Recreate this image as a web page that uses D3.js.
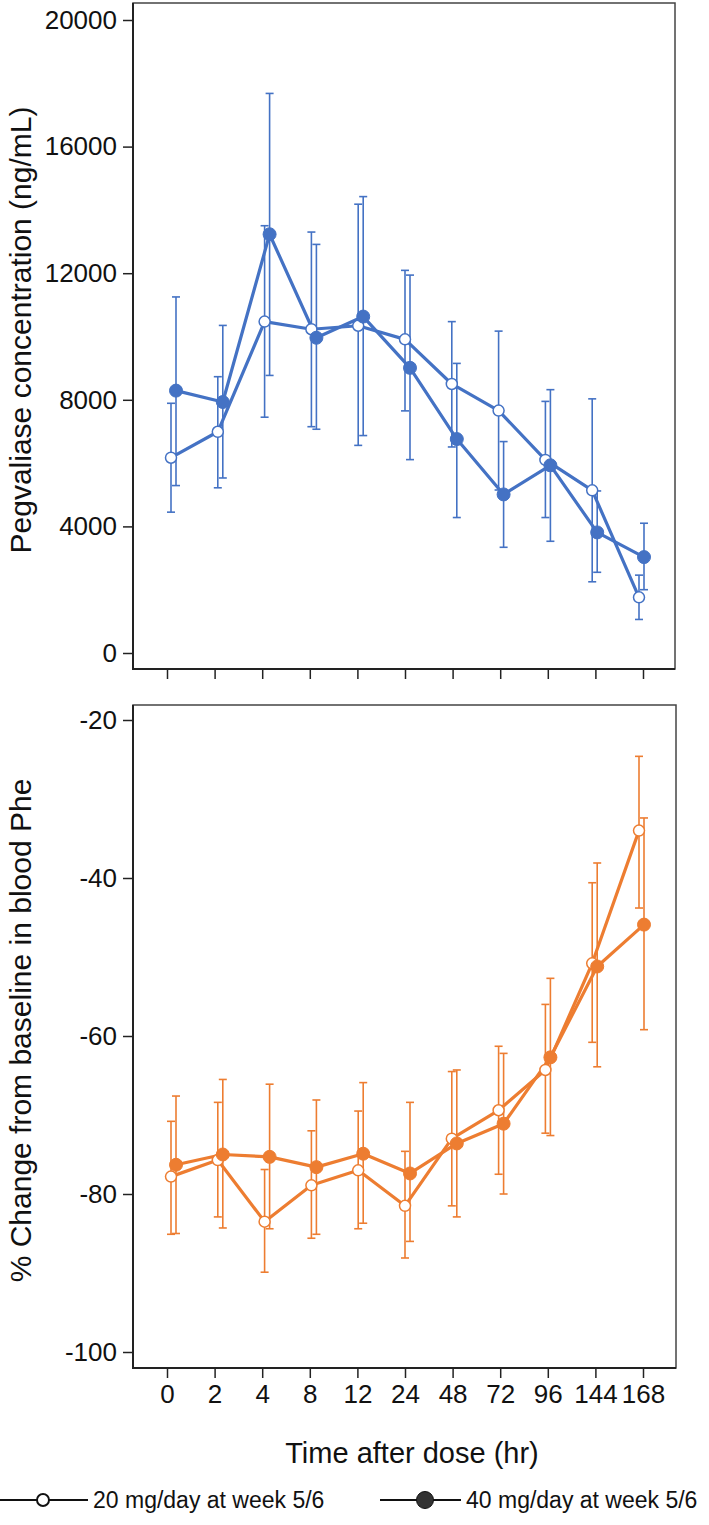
<!DOCTYPE html>
<html><head><meta charset="utf-8">
<script src="https://cdn.jsdelivr.net/npm/d3@7"></script>
<style>
body{margin:0;background:#fff}
text{font-family:"Liberation Sans",Arial,Helvetica,sans-serif;fill:#111}
</style>
</head><body>
<svg id="c" width="709" height="1525"></svg>
<script>
// ---------- data ----------
const categories = ["0","2","4","8","12","24","48","72","96","144","168"];

const concTicks = [0, 4000, 8000, 12000, 16000, 20000];
const concMean20  = [6170, 6990, 10470, 10230, 10340, 9910, 8500, 7660, 6100, 5140, 1760];
const concUpper20 = [7890, 8730, 13500, 13300, 14180, 12090, 10470, 10170, 7950, 8030, 2460];
const concLower20 = [4450, 5220, 7450, 7150, 6560, 7650, 6510, 5150, 4280, 2250, 1060];
const concMean40  = [8290, 7930, 13230, 9960, 10630, 9010, 6760, 5010, 5930, 3810, 3030];
const concUpper40 = [11250, 10350, 17680, 12910, 14420, 11940, 9150, 6680, 8320, 5120, 4100];
const concLower40 = [5290, 5530, 8770, 7070, 6870, 6110, 4280, 3340, 3530, 2550, 2000];

const pheTicks = [-100, -80, -60, -40, -20];
const pheMean20  = [-77.8, -75.7, -83.5, -78.9, -77.0, -81.5, -73.0, -69.4, -64.3, -50.8, -34.0];
const pheUpper20 = [-70.8, -68.4, -76.9, -72.0, -69.5, -74.6, -64.5, -61.3, -56.0, -40.6, -24.6];
const pheLower20 = [-85.1, -82.9, -89.9, -85.6, -84.4, -88.1, -81.5, -77.5, -72.3, -60.8, -43.8];
const pheMean40  = [-76.3, -75.0, -75.3, -76.6, -74.9, -77.4, -73.6, -71.1, -62.7, -51.2, -45.9];
const pheUpper40 = [-67.6, -65.5, -66.1, -68.1, -65.9, -68.4, -64.3, -62.2, -52.7, -38.1, -32.4];
const pheLower40 = [-85.0, -84.3, -84.4, -85.1, -83.7, -86.0, -82.9, -80.0, -72.6, -63.9, -59.2];

const seriesNames = ["20 mg/day at week 5/6", "40 mg/day at week 5/6"];
const xTitle = "Time after dose (hr)";
const concTitle = "Pegvaliase concentration (ng/mL)";
const pheTitle = "% Change from baseline in blood Phe";

// ---------- drawing ----------
const svg = d3.select("#c");
const BLUE = "#4472C4", ORANGE = "#ED7D31";
const FONT = '"Liberation Sans",Arial,Helvetica,sans-serif';

const xTick = d3.scalePoint().domain(categories).range([167, 643]);
const xMark = d3.scalePoint().domain(categories).range([173.5, 641.5]);
const dodge = [-2.5, 2.5];

function zip(mean, lo, hi) {
  return categories.map((c, i) => ({c, m: mean[i], lo: lo[i], hi: hi[i]}));
}

function panel(o) {
  const g = svg.append("g");
  const y = d3.scaleLinear().domain(o.domain).range(o.range);

  // frame
  g.append("rect").attr("x", o.x0).attr("y", o.y0)
    .attr("width", o.x1 - o.x0).attr("height", o.y1 - o.y0)
    .attr("fill", "none").attr("stroke", "#444").attr("stroke-width", 1.5);
  g.append("path").attr("d", `M${o.x0},${o.y0}V${o.y1}H${o.x1}`)
    .attr("fill", "none").attr("stroke", "#222").attr("stroke-width", 2);

  // y axis
  const ya = g.append("g").attr("transform", `translate(${o.x0},0)`)
    .call(d3.axisLeft(y).tickValues(o.ticks).tickSize(10).tickSizeOuter(0).tickPadding(6).tickFormat(d => String(d)));
  ya.select(".domain").remove();
  ya.selectAll("line").attr("stroke", "#222").attr("stroke-width", 1.5);
  ya.selectAll("text").attr("font-size", 26).attr("font-family", FONT).attr("fill", "#111");

  // x axis
  const xa = g.append("g").attr("transform", `translate(0,${o.y1})`)
    .call(d3.axisBottom(xTick).tickSize(10).tickSizeOuter(0).tickPadding(7)
      .tickFormat(o.xLabels ? d => d : () => ""));
  xa.select(".domain").remove();
  xa.selectAll("line").attr("stroke", "#222").attr("stroke-width", 1.5);
  xa.selectAll("text").attr("font-size", 26).attr("font-family", FONT).attr("fill", "#111");

  // y title
  g.append("text").attr("transform", `translate(31,${(o.y0 + o.y1) / 2 - 6}) rotate(-90)`)
    .attr("text-anchor", "middle").attr("font-size", 30).text(o.title);

  const line = d3.line().x(d => d.x).y(d => y(d.m));

  o.series.forEach((s, si) => {
    const pts = s.data.map(d => Object.assign({x: xMark(d.c) + dodge[si]}, d));
    const eb = g.append("g").attr("stroke", o.color).attr("stroke-width", 1.6).attr("fill", "none");
    pts.forEach(d => {
      eb.append("line").attr("x1", d.x).attr("x2", d.x).attr("y1", y(d.lo)).attr("y2", y(d.hi));
      eb.append("line").attr("x1", d.x - 4).attr("x2", d.x + 4).attr("y1", y(d.lo)).attr("y2", y(d.lo));
      eb.append("line").attr("x1", d.x - 4).attr("x2", d.x + 4).attr("y1", y(d.hi)).attr("y2", y(d.hi));
    });
    s.pts = pts;
  });
  o.series.forEach((s, si) => {
    g.append("path").datum(s.pts).attr("d", line)
      .attr("fill", "none").attr("stroke", o.color).attr("stroke-width", 3.2).attr("stroke-linejoin", "round");
  });
  o.series.forEach((s, si) => {
    g.selectAll(null).data(s.pts).join("circle")
      .attr("cx", d => d.x).attr("cy", d => y(d.m))
      .attr("r", si === 0 ? 5.5 : 6.5)
      .attr("fill", si === 0 ? "#fff" : o.color)
      .attr("stroke", o.color).attr("stroke-width", si === 0 ? 1.5 : 1);
  });
}

panel({
  x0: 133, x1: 675, y0: 3, y1: 669,
  domain: [0, 20000], range: [653, 20], ticks: concTicks,
  color: BLUE, title: concTitle, xLabels: false,
  series: [{data: zip(concMean20, concLower20, concUpper20)},
           {data: zip(concMean40, concLower40, concUpper40)}]
});

panel({
  x0: 133, x1: 676, y0: 705, y1: 1368,
  domain: [-100, -20], range: [1352, 720], ticks: pheTicks,
  color: ORANGE, title: pheTitle, xLabels: true,
  series: [{data: zip(pheMean20, pheLower20, pheUpper20)},
           {data: zip(pheMean40, pheLower40, pheUpper40)}]
});

// x title
svg.append("text").attr("x", 412).attr("y", 1463).attr("text-anchor", "middle")
  .attr("font-size", 29).text(xTitle);

// legend
const ly = 1500;
const leg = [{x0: 0, x1: 88, cx: 43, tx: 93, open: true},
             {x0: 380, x1: 461, cx: 425, tx: 466, open: false}];
leg.forEach((l, i) => {
  svg.append("line").attr("x1", l.x0).attr("x2", l.x1).attr("y1", ly).attr("y2", ly)
    .attr("stroke", "#111").attr("stroke-width", 2);
  svg.append("circle").attr("cx", l.cx).attr("cy", ly).attr("r", l.open ? 6 : 8.5)
    .attr("fill", l.open ? "#fff" : "#333").attr("stroke", "#111").attr("stroke-width", l.open ? 2 : 1);
  svg.append("text").attr("x", l.tx).attr("y", ly + 8).attr("font-size", 23).text(seriesNames[i]);
});
</script>
</body></html>
